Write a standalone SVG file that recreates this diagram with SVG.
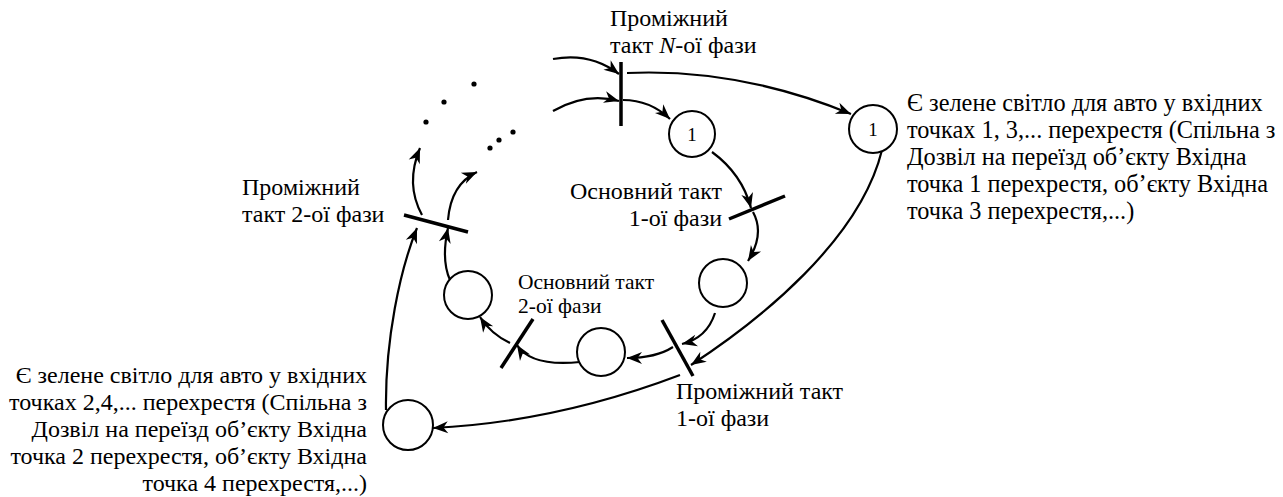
<svg xmlns="http://www.w3.org/2000/svg" width="1283" height="497" viewBox="0 0 1283 497">
<style>
.c{fill:#fff;stroke:#000;stroke-width:2}
.bar{stroke:#000;stroke-width:3.5;fill:none}
.e{fill:none;stroke:#000;stroke-width:2.2;marker-end:url(#ah)}
.t{font-family:"Liberation Serif","Times New Roman",serif;font-size:24px;fill:#000}
.tr{font-family:"Liberation Serif","Times New Roman",serif;font-size:24.3px;fill:#000}
.ts{font-family:"Liberation Serif","Times New Roman",serif;font-size:21.5px;fill:#000}
.n{font-family:"Liberation Serif","Times New Roman",serif;font-size:19px;fill:#000;text-anchor:middle}
.d{fill:#000}
</style>
<defs>
<marker id="ah" markerUnits="userSpaceOnUse" markerWidth="20" markerHeight="16" viewBox="-16 -8 18 16" refX="0" refY="0" orient="auto">
<path d="M0,0 L-15,-6 L-10.5,0 L-15,6 Z" fill="#000"/>
</marker>
</defs>
<g id="connectors">
<path class="e" d="M553,59 Q590,52 619,74"/>
<path class="e" d="M553,111 Q586,92 619,101"/>
<path class="e" d="M623,100 Q650,100 670,119"/>
<path class="e" d="M627,73 Q739,68 851,114"/>
<path class="e" d="M712,152 Q742,174 751,208"/>
<path class="e" d="M753,212 Q765,234 748,261"/>
<path class="e" d="M715,313 Q707,338 682,344"/>
<path class="e" d="M673,347 Q656,358 627,358"/>
<path class="e" d="M580,362 Q531,367 517,345"/>
<path class="e" d="M510,343 Q491,334 480,317"/>
<path class="e" d="M450,280 Q441,260 448,228"/>
<path class="e" d="M386,410 C385,340 400,270 417,228"/>
<path class="e" d="M882,150 C860,240 760,320 691,365"/>
<path class="e" d="M680,375 Q556,422 433,428"/>
<path class="e" d="M422,215 Q405,184 420,148"/>
<path class="e" d="M448,220 Q451,184 477,172"/>
</g>
<g id="bars">
<line class="bar" x1="621" y1="62" x2="621" y2="126"/>
<line class="bar" x1="729" y1="219" x2="785" y2="196"/>
<line class="bar" x1="662" y1="320" x2="693" y2="376"/>
<line class="bar" x1="533" y1="319" x2="501" y2="368"/>
<line class="bar" x1="404" y1="215" x2="468" y2="232"/>
</g>
<g id="dots">
<circle class="d" cx="474" cy="84" r="2.6"/>
<circle class="d" cx="444" cy="102" r="2.6"/>
<circle class="d" cx="426" cy="122" r="2.6"/>
<circle class="d" cx="513" cy="132" r="2.6"/>
<circle class="d" cx="499" cy="140" r="2.6"/>
<circle class="d" cx="490" cy="148" r="2.6"/>
</g>
<g id="node-inner1"><circle class="c" cx="692" cy="134" r="23"/><text class="n" x="692" y="141">1</text></g>
<g id="node-outer1"><circle class="c" cx="873" cy="129" r="24"/><text class="n" x="873" y="136">1</text></g>
<g id="node-right"><circle class="c" cx="723" cy="283" r="24"/></g>
<g id="node-bottom"><circle class="c" cx="601" cy="352" r="24"/></g>
<g id="node-left"><circle class="c" cx="468" cy="295" r="24"/></g>
<g id="node-outer2"><circle class="c" cx="408" cy="425" r="25"/></g>
<g id="labels">
<text class="t" x="610" y="26">Проміжний</text>
<text class="t" x="610" y="53">такт <tspan font-style="italic">N</tspan>-ої фази</text>
<text class="t" x="242" y="195">Проміжний</text>
<text class="t" x="242" y="222">такт 2-ої фази</text>
<text class="t" x="722" y="199" text-anchor="end">Основний такт</text>
<text class="t" x="722" y="226" text-anchor="end">1-ої фази</text>
<text class="ts" x="518" y="289">Основний такт</text>
<text class="ts" x="518" y="313">2-ої фази</text>
<text class="t" x="676" y="399">Проміжний такт</text>
<text class="t" x="676" y="426">1-ої фази</text>
<g class="tr">
<text x="907" y="111">Є зелене світло для авто у вхідних</text>
<text x="907" y="138">точках 1, 3,... перехрестя (Спільна з</text>
<text x="907" y="165">Дозвіл на переїзд об’єкту Вхідна</text>
<text x="907" y="192">точка 1 перехрестя, об’єкту Вхідна</text>
<text x="907" y="219">точка 3 перехрестя,...)</text>
</g>
<g class="t" text-anchor="end">
<text x="367" y="383">Є зелене світло для авто у вхідних</text>
<text x="367" y="410">точках 2,4,... перехрестя (Спільна з</text>
<text x="367" y="437">Дозвіл на переїзд об’єкту Вхідна</text>
<text x="367" y="464">точка 2 перехрестя, об’єкту Вхідна</text>
<text x="367" y="491">точка 4 перехрестя,...)</text>
</g>
</g>
</svg>
